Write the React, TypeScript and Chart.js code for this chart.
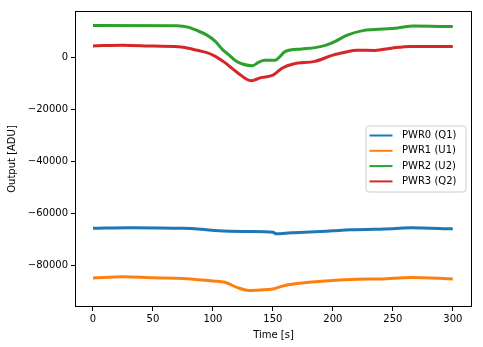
import React, { useEffect, useRef } from 'react';
import { Chart, registerables } from 'chart.js';

Chart.register(...registerables);

const seriesLabels = ['PWR0 (Q1)', 'PWR1 (U1)', 'PWR2 (U2)', 'PWR3 (Q2)'];
const seriesColors = ['#1f77b4', '#ff7f0e', '#2ca02c', '#d62728'];

const pwr0Time = [0, 30, 75, 90, 105, 130, 150, 153, 165, 185, 200, 215, 250, 265, 300];
const pwr0Value = [-65690, -65420, -65690, -66070, -66650, -66920, -67230, -67800, -67420, -67040, -66650, -66270, -65800, -65500, -65880];

const pwr1Time = [0, 25, 50, 75, 85, 100, 110, 120, 130, 140, 150, 160, 178, 200, 220, 240, 265, 300];
const pwr1Value = [-84730, -84270, -84650, -84920, -85310, -85880, -86380, -88380, -89540, -89340, -88960, -87610, -86530, -85690, -85230, -85110, -84530, -85110];

const pwr2Time = [0, 70, 80, 85, 95, 102, 108, 113, 120, 133, 138, 143, 152, 156, 160, 174, 185, 195, 202, 212, 225, 235, 254, 267, 300];
const pwr2Value = [12190, 12100, 11500, 10650, 8540, 6150, 2960, 1040, -1650, -3190, -1920, -1150, -1150, 380, 2190, 3230, 3730, 4770, 6150, 8540, 10270, 10650, 11310, 12000, 11810];

const pwr3Time = [0, 25, 50, 75, 87, 95, 102, 110, 120, 132, 140, 150, 158, 167, 185, 200, 210, 220, 235, 250, 265, 300];
const pwr3Value = [4380, 4690, 4310, 3920, 2690, 1810, 380, -2040, -5690, -8960, -7810, -6850, -4080, -2540, -1540, 850, 1920, 2770, 2650, 3620, 4190, 4190];

const xTicks = [0, 50, 100, 150, 200, 250, 300];
const yTicks = [-80000, -60000, -40000, -20000, 0];
const xRange = [-15, 316];
const yRange = [-95900, 17800];

const FONT = 'DejaVu Sans';

const toPoints = (t: number[], v: number[]) => t.map((x, i) => ({ x, y: v[i] }));

const fmt = (v: number) => (v < 0 ? '\u2212' + Math.abs(v) : String(v));

const framePlugin = {
  id: 'frame',
  afterDatasetsDraw(chart: any) {
    const { ctx, chartArea } = chart;
    const l = Math.round(chartArea.left) + 0.5;
    const t = Math.round(chartArea.top) + 0.5;
    const r = Math.round(chartArea.right) - 0.5;
    const b = Math.round(chartArea.bottom) - 0.5;
    ctx.save();
    ctx.strokeStyle = '#000';
    ctx.lineWidth = 1;
    ctx.strokeRect(l, t, r - l, b - t);
    ctx.restore();
  },
};

const legendPlugin = {
  id: 'mplLegend',
  afterDraw(chart: any) {
    const { ctx, chartArea } = chart;
    const boxW = 100;
    const boxH = 66;
    const right = chartArea.right - 6;
    const left = right - boxW;
    const top = (chartArea.top + chartArea.bottom) / 2 - boxH / 2;
    ctx.save();
    ctx.beginPath();
    const rad = 3;
    ctx.moveTo(left + rad, top);
    ctx.lineTo(left + boxW - rad, top);
    ctx.arcTo(left + boxW, top, left + boxW, top + rad, rad);
    ctx.lineTo(left + boxW, top + boxH - rad);
    ctx.arcTo(left + boxW, top + boxH, left + boxW - rad, top + boxH, rad);
    ctx.lineTo(left + rad, top + boxH);
    ctx.arcTo(left, top + boxH, left, top + boxH - rad, rad);
    ctx.lineTo(left, top + rad);
    ctx.arcTo(left, top, left + rad, top, rad);
    ctx.closePath();
    ctx.fillStyle = 'rgba(255,255,255,0.8)';
    ctx.fill();
    ctx.strokeStyle = '#cccccc';
    ctx.lineWidth = 1;
    ctx.stroke();
    ctx.font = `10px "${FONT}"`;
    ctx.textBaseline = 'middle';
    ctx.textAlign = 'left';
    chart.data.datasets.forEach((ds: any, i: number) => {
      const y = top + 9.5 + i * 15.3;
      ctx.beginPath();
      ctx.strokeStyle = ds.borderColor;
      ctx.lineWidth = 2;
      ctx.moveTo(left + 3.5, y);
      ctx.lineTo(left + 26.5, y);
      ctx.stroke();
      ctx.fillStyle = '#000';
      ctx.fillText(ds.label, left + 36, y);
    });
    ctx.restore();
  },
};

export default function App() {
  const ref = useRef<HTMLCanvasElement | null>(null);

  useEffect(() => {
    if (!ref.current) return;
    Chart.defaults.font.family = FONT;
    Chart.defaults.font.size = 10;
    const times = [pwr0Time, pwr1Time, pwr2Time, pwr3Time];
    const values = [pwr0Value, pwr1Value, pwr2Value, pwr3Value];
    const chart = new Chart(ref.current, {
      type: 'line',
      data: {
        datasets: seriesLabels.map((label, i) => ({
          label,
          data: toPoints(times[i], values[i]),
          borderColor: seriesColors[i],
          backgroundColor: seriesColors[i],
          borderWidth: 3,
          pointRadius: 0,
          fill: false,
          cubicInterpolationMode: 'monotone' as const,
        })),
      },
      options: {
        animation: false,
        responsive: false,
        devicePixelRatio: 1,
        layout: { padding: { top: 11, right: 11, left: 0, bottom: 0 } },
        plugins: { legend: { display: false }, tooltip: { enabled: false } },
        scales: {
          x: {
            type: 'linear',
            min: xRange[0],
            max: xRange[1],
            afterBuildTicks: (s: any) => {
              s.ticks = xTicks.map((value) => ({ value }));
            },
            afterFit: (s: any) => {
              s.height = 40;
            },
            grid: { display: true, drawOnChartArea: false, drawTicks: true, tickLength: 4, tickColor: '#000', tickWidth: 1 },
            border: { display: false },
            ticks: { color: '#000', font: { family: FONT, size: 10 }, padding: 2, maxRotation: 0, autoSkip: false, callback: (v: any) => fmt(Number(v)) },
            title: { display: true, text: 'Time [s]', color: '#000', font: { family: FONT, size: 10 }, padding: { top: 0, bottom: 6 } },
          },
          y: {
            type: 'linear',
            min: yRange[0],
            max: yRange[1],
            afterBuildTicks: (s: any) => {
              s.ticks = yTicks.map((value) => ({ value }));
            },
            afterFit: (s: any) => {
              s.width = 75;
            },
            grid: { display: true, drawOnChartArea: false, drawTicks: true, tickLength: 4, tickColor: '#000', tickWidth: 1 },
            border: { display: false },
            ticks: { color: '#000', font: { family: FONT, size: 10 }, padding: 3, autoSkip: false, callback: (v: any) => fmt(Number(v)) },
            title: { display: true, text: 'Output [ADU]', color: '#000', font: { family: FONT, size: 10 }, padding: { top: 6, bottom: 0 } },
          },
        },
      },
      plugins: [framePlugin, legendPlugin],
    });
    return () => chart.destroy();
  }, []);

  return (
    <div style={{ position: 'absolute', left: 0, top: 0, width: 483, height: 347, background: '#fff' }}>
      <canvas ref={ref} width={483} height={347} />
    </div>
  );
}
